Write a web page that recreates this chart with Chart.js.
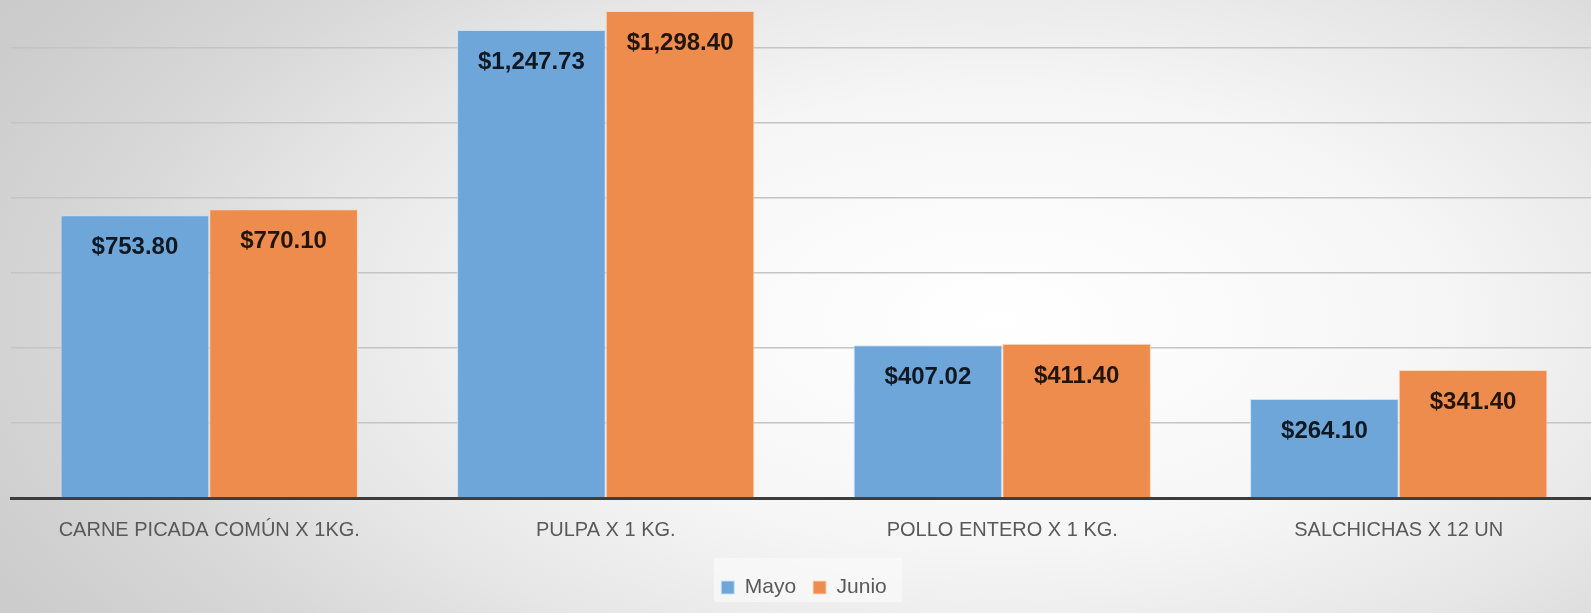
<!DOCTYPE html>
<html>
<head>
<meta charset="utf-8">
<script src="https://cdn.jsdelivr.net/npm/chart.js@4/dist/chart.umd.min.js"></script>
<style>
  html, body { margin:0; padding:0; width:1591px; height:613px; overflow:hidden; }
  body { background: radial-gradient(ellipse 1050px 540px at 1000px 320px, #ffffff 0%, #f6f6f6 42%, #e6e6e6 68%, #d8d8d8 86%, #cdcdcd 105%, #c8c8c8 120%); }
  #wrap { position:absolute; left:0; top:0; width:1600px; height:613px; }
</style>
</head>
<body>
<div id="wrap"><canvas id="c" width="1600" height="613"></canvas></div>
<script>
const categories = ["CARNE PICADA COMÚN X 1KG.", "PULPA X 1 KG.", "POLLO ENTERO X 1 KG.", "SALCHICHAS X 12 UN"];
const seriesNames = ["Mayo", "Junio"];
const mayo = [753.80, 1247.73, 407.02, 264.10];
const junio = [770.10, 1298.40, 411.40, 341.40];
const gridStep = 200;

const LEGEND_H = 53;
const XAXIS_H = 62;

const fmt = v => '$' + v.toLocaleString('en-US', {minimumFractionDigits: 2, maximumFractionDigits: 2});

const valueLabels = {
  id: 'valueLabels',
  afterDatasetsDraw(chart) {
    const ctx = chart.ctx;
    ctx.save();
    ctx.font = 'bold 24px "Liberation Sans", Arial, sans-serif';
    ctx.fillStyle = 'rgba(0,0,0,0.85)';
    ctx.textAlign = 'center';
    ctx.textBaseline = 'alphabetic';
    chart.data.datasets.forEach((ds, i) => {
      const meta = chart.getDatasetMeta(i);
      meta.data.forEach((bar, j) => {
        ctx.fillText(fmt(ds.data[j]), bar.x, bar.y + 39);
      });
    });
    ctx.restore();
  }
};

const legendFix = {
  id: 'legendFix',
  beforeLayout(chart) {
    const lg = chart.legend;
    if (lg && !lg._fixed) {
      const orig = lg.fit;
      lg.fit = function () { orig.call(this); this.height = LEGEND_H; };
      lg._fixed = true;
    }
  },
  beforeDraw(chart) {
    const lg = chart.legend;
    if (!lg) return;
    const ctx = chart.ctx;
    ctx.save();
    const w = 188, h = 44;
    const cx = lg.left + lg.width / 2 + 4;
    ctx.fillStyle = 'rgba(252,252,252,0.6)';
    ctx.fillRect(cx - w / 2, lg.top - 2, w, h);
    ctx.restore();
  }
};

new Chart(document.getElementById('c'), {
  type: 'bar',
  data: {
    labels: categories,
    datasets: [
      { label: seriesNames[0], data: mayo, backgroundColor: '#6ea6da', borderColor: 'rgba(200,225,245,0.9)', borderWidth: 1, borderSkipped: 'bottom' },
      { label: seriesNames[1], data: junio, backgroundColor: '#ee8c4e', borderColor: 'rgba(250,215,190,0.9)', borderWidth: 1, borderSkipped: 'bottom' }
    ]
  },
  options: {
    responsive: false,
    animation: false,
    devicePixelRatio: 1,
    layout: { padding: { left: 11, right: 3, top: 0, bottom: 0 } },
    datasets: { bar: { categoryPercentage: 0.75, barPercentage: 1.0 } },
    scales: {
      x: {
        grid: { display: false },
        border: { display: true, color: '#3c3c3c', width: 3 },
        ticks: { color: '#595959', font: { family: '"Liberation Sans", Arial, sans-serif', size: 20 }, padding: 12, maxRotation: 0 },
        afterFit(scale) { scale.height = XAXIS_H; }
      },
      y: {
        min: 0, max: 1328,
        ticks: { display: false, stepSize: gridStep },
        border: { display: false },
        grid: {
          color: c => (c.tick.value > 0 && c.tick.value % gridStep === 0) ? '#c4c4c4' : 'transparent',
          lineWidth: 1.5,
          drawTicks: false
        }
      }
    },
    plugins: {
      legend: {
        position: 'bottom',
        labels: { color: '#595959', font: { family: '"Liberation Sans", Arial, sans-serif', size: 21 }, boxWidth: 13, boxHeight: 13, padding: 17, useBorderRadius: false }
      },
      tooltip: { enabled: false }
    }
  },
  plugins: [legendFix, valueLabels]
});
</script>
</body>
</html>
